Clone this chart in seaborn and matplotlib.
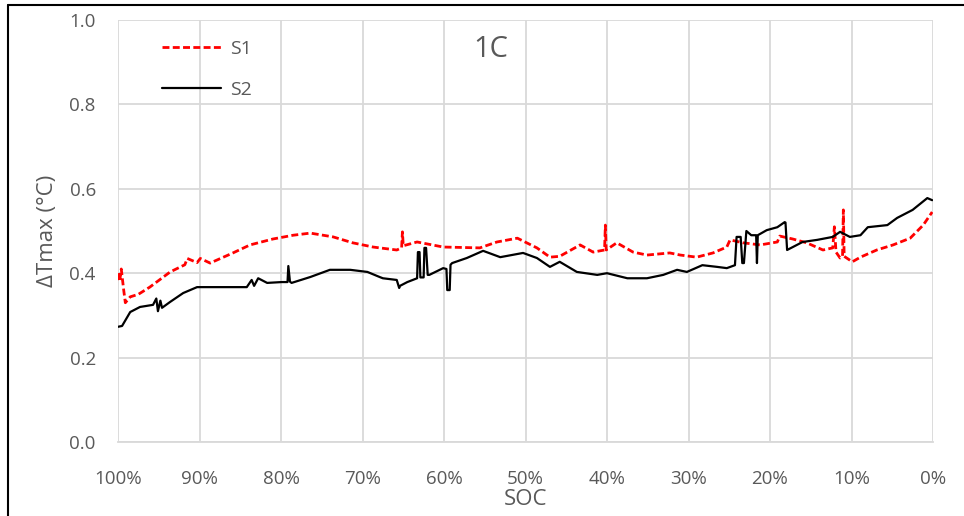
import matplotlib
matplotlib.use("Agg")
import matplotlib.pyplot as plt
from matplotlib.lines import Line2D
import seaborn as sns
import pandas as pd

s1_soc = [100, 99.8, 99.6, 99.3, 99.1, 98.5, 97.5, 96.1, 93.6, 91.8, 91.5, 90.3, 89.9, 88.7,
          85.9, 83.8, 81.0, 78.5, 76.4, 73.6, 71.2, 68.7, 67.9, 65.8, 65.2, 65.1, 65.0, 63.3,
          60.1, 55.6, 53.5, 51.0, 48.6, 47.0, 45.8, 43.3, 41.7, 40.3, 40.2, 40.1, 38.8, 36.8,
          35.1, 32.3, 31.0, 29.0, 27.0, 25.3, 24.9, 23.3, 21.2, 19.1, 18.8, 17.2, 15.5, 13.5,
          12.3, 12.1, 11.9, 11.4, 11.1, 11.0, 10.9, 9.9, 8.9, 6.9, 4.9, 2.8, 1.2, 0.1]
s1_val = [0.400, 0.380, 0.410, 0.360, 0.330, 0.344, 0.350, 0.367, 0.403, 0.420, 0.435, 0.425, 0.435, 0.424,
          0.448, 0.467, 0.481, 0.490, 0.495, 0.486, 0.472, 0.462, 0.460, 0.455, 0.460, 0.498, 0.465, 0.474,
          0.462, 0.460, 0.474, 0.483, 0.460, 0.438, 0.440, 0.467, 0.450, 0.455, 0.514, 0.455, 0.472, 0.450,
          0.443, 0.448, 0.443, 0.438, 0.448, 0.462, 0.479, 0.472, 0.467, 0.474, 0.488, 0.481, 0.472, 0.455,
          0.460, 0.510, 0.450, 0.436, 0.440, 0.550, 0.440, 0.427, 0.438, 0.455, 0.467, 0.483, 0.514, 0.545]

s2_soc = [100, 99.5, 98.5, 97.3, 95.7, 95.3, 95.1, 94.8, 94.6, 93.6, 92.0, 90.3, 87.9, 84.2,
          83.6, 83.3, 82.8, 81.7, 79.9, 79.2, 79.1, 78.9, 78.7, 76.4, 74.0, 71.5, 69.4, 67.9,
          67.5, 65.8, 65.5, 65.4, 64.5, 63.3, 63.2, 63.0, 62.9, 62.5, 62.4, 62.2, 62.0, 61.8,
          60.1, 59.7, 59.6, 59.3, 59.2, 59.0, 57.2, 55.2, 53.1, 50.3, 48.6, 47.0, 45.8, 43.7,
          41.2, 40.0, 37.5, 35.1, 33.1, 31.4, 30.2, 28.3, 26.5, 25.3, 24.3, 24.1, 23.6, 23.4,
          23.2, 22.9, 22.3, 21.7, 21.6, 21.5, 20.4, 19.1, 18.2, 18.1, 17.9, 17.2, 16.0, 14.2,
          12.3, 11.4, 10.2, 8.9, 8.0, 5.6, 4.4, 2.5, 0.7, 0.1]
s2_val = [0.273, 0.275, 0.308, 0.320, 0.325, 0.340, 0.310, 0.335, 0.318, 0.332, 0.353, 0.367, 0.367, 0.367,
          0.384, 0.370, 0.388, 0.377, 0.379, 0.379, 0.417, 0.380, 0.377, 0.391, 0.408, 0.408, 0.403, 0.391,
          0.388, 0.384, 0.365, 0.370, 0.379, 0.388, 0.450, 0.450, 0.390, 0.390, 0.460, 0.460, 0.396, 0.396,
          0.412, 0.410, 0.360, 0.360, 0.420, 0.424, 0.436, 0.453, 0.438, 0.448, 0.436, 0.415, 0.427, 0.403,
          0.396, 0.400, 0.388, 0.388, 0.396, 0.408, 0.403, 0.419, 0.415, 0.412, 0.419, 0.486, 0.486, 0.424,
          0.424, 0.500, 0.490, 0.490, 0.424, 0.490, 0.502, 0.509, 0.521, 0.520, 0.455, 0.462, 0.474, 0.479,
          0.486, 0.498, 0.486, 0.490, 0.509, 0.514, 0.531, 0.550, 0.578, 0.573]

x_ticks = [100, 90, 80, 70, 60, 50, 40, 30, 20, 10, 0]
x_tick_labels = ["100%", "90%", "80%", "70%", "60%", "50%", "40%", "30%", "20%", "10%", "0%"]
y_ticks = [0.0, 0.2, 0.4, 0.6, 0.8, 1.0]

sns.set_theme(style="white")
plt.rcParams['font.family'] = ['Open Sans', 'DejaVu Sans']
txt = "#595959"

fig = plt.figure(figsize=(9.64, 5.16), dpi=100)
ax = fig.add_axes([118/964, 1-442/516, (933-118)/964, (442-20)/516])

df1 = pd.DataFrame({"SOC": s1_soc, "val": s1_val})
df2 = pd.DataFrame({"SOC": s2_soc, "val": s2_val})
sns.lineplot(data=df1, x="SOC", y="val", ax=ax, color="#ff0000", lw=2.0,
             linestyle=(0, (2.5, 1.2)), sort=False, estimator=None)
sns.lineplot(data=df2, x="SOC", y="val", ax=ax, color="black", lw=1.6,
             sort=False, estimator=None)

ax.set_xlim(100, 0)
ax.set_ylim(0, 1.0)
ax.set_xticks(x_ticks)
ax.set_xticklabels(x_tick_labels)
ax.set_yticks(y_ticks)
ax.set_yticklabels([f"{v:.1f}" for v in y_ticks])
ax.grid(True, color="#d9d9d9", lw=1.3)
ax.set_axisbelow(True)
for s in ["top", "right", "left"]:
    ax.spines[s].set_visible(False)
ax.spines["bottom"].set_color("#d9d9d9")
ax.spines["bottom"].set_linewidth(1.3)
ax.tick_params(axis="both", length=0, labelsize=13.5, colors=txt)
ax.tick_params(axis="x", pad=20)
ax.tick_params(axis="y", pad=16)
ax.set_xlabel("SOC", fontsize=16, color=txt, labelpad=1)
ax.set_ylabel("ΔTmax (°C)", fontsize=16, color=txt, labelpad=8)

ax.text(0.457, 0.93, "1C", transform=ax.transAxes, fontsize=21, color=txt,
        ha="center", va="center")

handles = [Line2D([], [], color="#ff0000", lw=2.0, linestyle=(0, (2.5, 1.2))),
           Line2D([], [], color="black", lw=1.6)]
leg = ax.legend(handles, ["S1", "S2"], loc="upper left", bbox_to_anchor=(0.033, 0.995),
                frameon=False, fontsize=14, handlelength=3.0, labelspacing=1.2,
                handletextpad=0.5)
for t in leg.get_texts():
    t.set_color(txt)

fig.add_artist(Line2D([8/964, 8/964], [0, 1-5/516], color="black", lw=1.5,
                      transform=fig.transFigure))
fig.add_artist(Line2D([8/964, 1], [1-5/516, 1-5/516], color="black", lw=1.5,
                      transform=fig.transFigure))

fig.savefig("out.png", dpi=100)
